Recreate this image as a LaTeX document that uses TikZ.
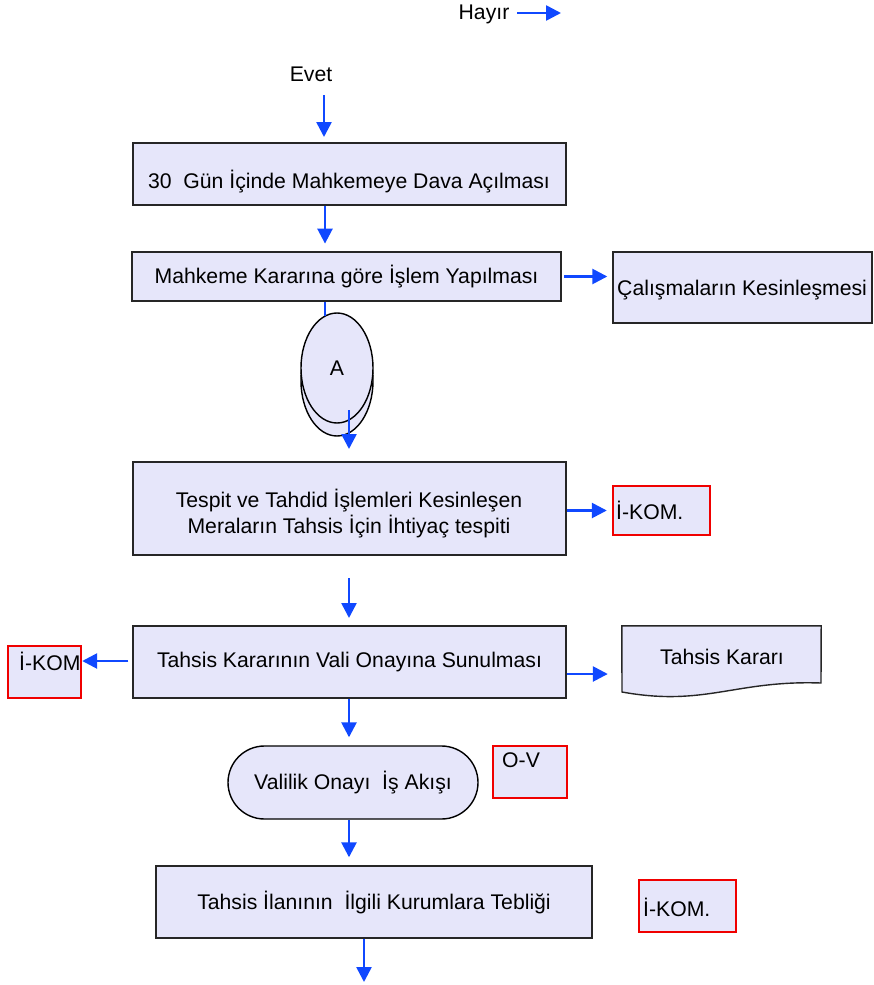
\documentclass[tikz,border=0pt]{standalone}
\usepackage{fontspec}
\setmainfont{Liberation Sans}
\usetikzlibrary{arrows.meta,shapes.misc,shapes.geometric}
\definecolor{boxfill}{RGB}{230,230,250}
\definecolor{flowblue}{RGB}{16,72,255}
\definecolor{tagred}{RGB}{240,0,0}
\begin{document}
\begin{tikzpicture}[x=1pt,y=-1pt,
  font=\fontsize{21.2}{26}\selectfont,
  box/.style={draw=black!85, line width=1.4pt, fill=boxfill, inner sep=0pt},
  tagbox/.style={draw=tagred, line width=2.4pt, fill=boxfill, inner sep=0pt},
  txt/.style={inner sep=0pt},
  flow/.style={draw=flowblue, line width=2.6pt, -{Triangle[length=15pt,width=15pt]}},
  flowline/.style={draw=flowblue, line width=2.6pt}]
\useasboundingbox (0,0) rectangle (873,985);

% top labels
\node[txt] (hay) at (484,14) {Hayır};
\coordinate (hs) at (517,13);
\coordinate (he) at (561,13);
\draw[flow] (hs) -- (he);

\node[txt] (evet) at (311,74) {Evet};
\coordinate (es) at (324,95);
\coordinate (ee) at (324,137);
\draw[flow] (es) -- (ee);

% box 1
\node[box, minimum width=433pt, minimum height=62pt] (b1) at (349.5,174) {};
\node[txt] (t1) at (349,182) {30\ \ Gün İçinde Mahkemeye Dava Açılması};

% box 2
\node[box, line width=2.8pt, minimum width=429pt, minimum height=49pt] (b2) at (346.5,276.5) {Mahkeme Kararına göre İşlem Yapılması};
\draw[flow, shorten >=7pt] (325,0 |- b1.south) -- (325,0 |- b2.north);

% box 3
\node[box, minimum width=259pt, minimum height=71pt] (b3) at (742.5,287.5) {};
\node[txt, anchor=west] (t3) at (617,290) {Çalışmaların Kesinleşmesi};
\draw[flow, shorten <=2pt, shorten >=5pt] (b2.east) -- (b2.east -| b3.west);

% connector A
\node[ellipse, draw=black, line width=1.4pt, fill=boxfill, minimum width=72pt, minimum height=110pt, inner sep=0pt] (aback) at (337,381) {};
\node[ellipse, draw=black, line width=1.4pt, fill=boxfill, minimum width=72pt, minimum height=110pt, inner sep=0pt] (afront) at (337,368) {A};
\coordinate (atop) at (325,316);
\draw[flowline] (325,0 |- b2.south) -- (atop);
\coordinate (as) at (349,410);
\coordinate (ae) at (349,449);
\draw[flow] (as) -- (ae);

% box 4
\node[box, minimum width=433pt, minimum height=93pt] (b4) at (349.5,508.5) {};
\node[txt, align=center] (t4) at (349,514) {Tespit ve Tahdid İşlemleri Kesinleşen\\Meraların Tahsis İçin İhtiyaç tespiti};
\node[tagbox, minimum width=97pt, minimum height=49pt] (k1) at (661.5,510.5) {};
\node[txt, anchor=west] (tk1) at (616,510) {İ-KOM.};
\draw[flow, shorten >=5pt] (b4.east |- k1.west) -- (k1.west);

\coordinate (fs) at (349,578);
\coordinate (fe) at (349,618);
\draw[flow] (fs) -- (fe);

% box 5
\node[box, minimum width=433pt, minimum height=72pt] (b5) at (349.5,662) {Tahsis Kararının Vali Onayına Sunulması};
\node[tagbox, minimum width=73pt, minimum height=52pt] (k2) at (44.5,672) {};
\node[txt, anchor=west] (tk2) at (19,661) {İ-KOM};
\draw[flow, shorten <=4pt] (b5.west |- 0,661) -- (k2.east |- 0,661);

% document shape
\node[txt, minimum width=199pt, minimum height=67pt] (doc) at (721.5,659.5) {};
\draw[draw=black!85, line width=1.4pt, fill=boxfill] (doc.north west) -- (doc.north east) -- (821,683) .. controls (735,680) and (705,707) .. (622,692) -- cycle;
\node[txt] (tdoc) at (722,657) {Tahsis Kararı};
\draw[flow, shorten >=14pt] (b5.east |- 0,674) -- (doc.west |- 0,674);

% stadium
\node[rounded rectangle, draw=black, line width=1.4pt, fill=boxfill, minimum width=250pt, minimum height=73pt, inner sep=0pt] (st) at (353,782.5) {Valilik Onayı\ \ İş Akışı};
\draw[flow, shorten >=8pt] (349,0 |- b5.south) -- (349,0 |- st.north);
\node[tagbox, minimum width=74pt, minimum height=52pt] (ov) at (530,772) {};
\node[txt, anchor=west] (tov) at (502,760) {O-V};

% box 6
\node[box, minimum width=436pt, minimum height=72pt] (b6) at (374,902) {Tahsis İlanının\ \ İlgili Kurumlara Tebliği};
\draw[flow, shorten >=8pt] (349,0 |- st.south) -- (349,0 |- b6.north);
\node[tagbox, minimum width=97pt, minimum height=52pt] (k3) at (687.5,906) {};
\node[txt, anchor=west] (tk3) at (643,907) {İ-KOM.};
\coordinate (end) at (364,982);
\draw[flow] (364,0 |- b6.south) -- (end);
\end{tikzpicture}
\end{document}
